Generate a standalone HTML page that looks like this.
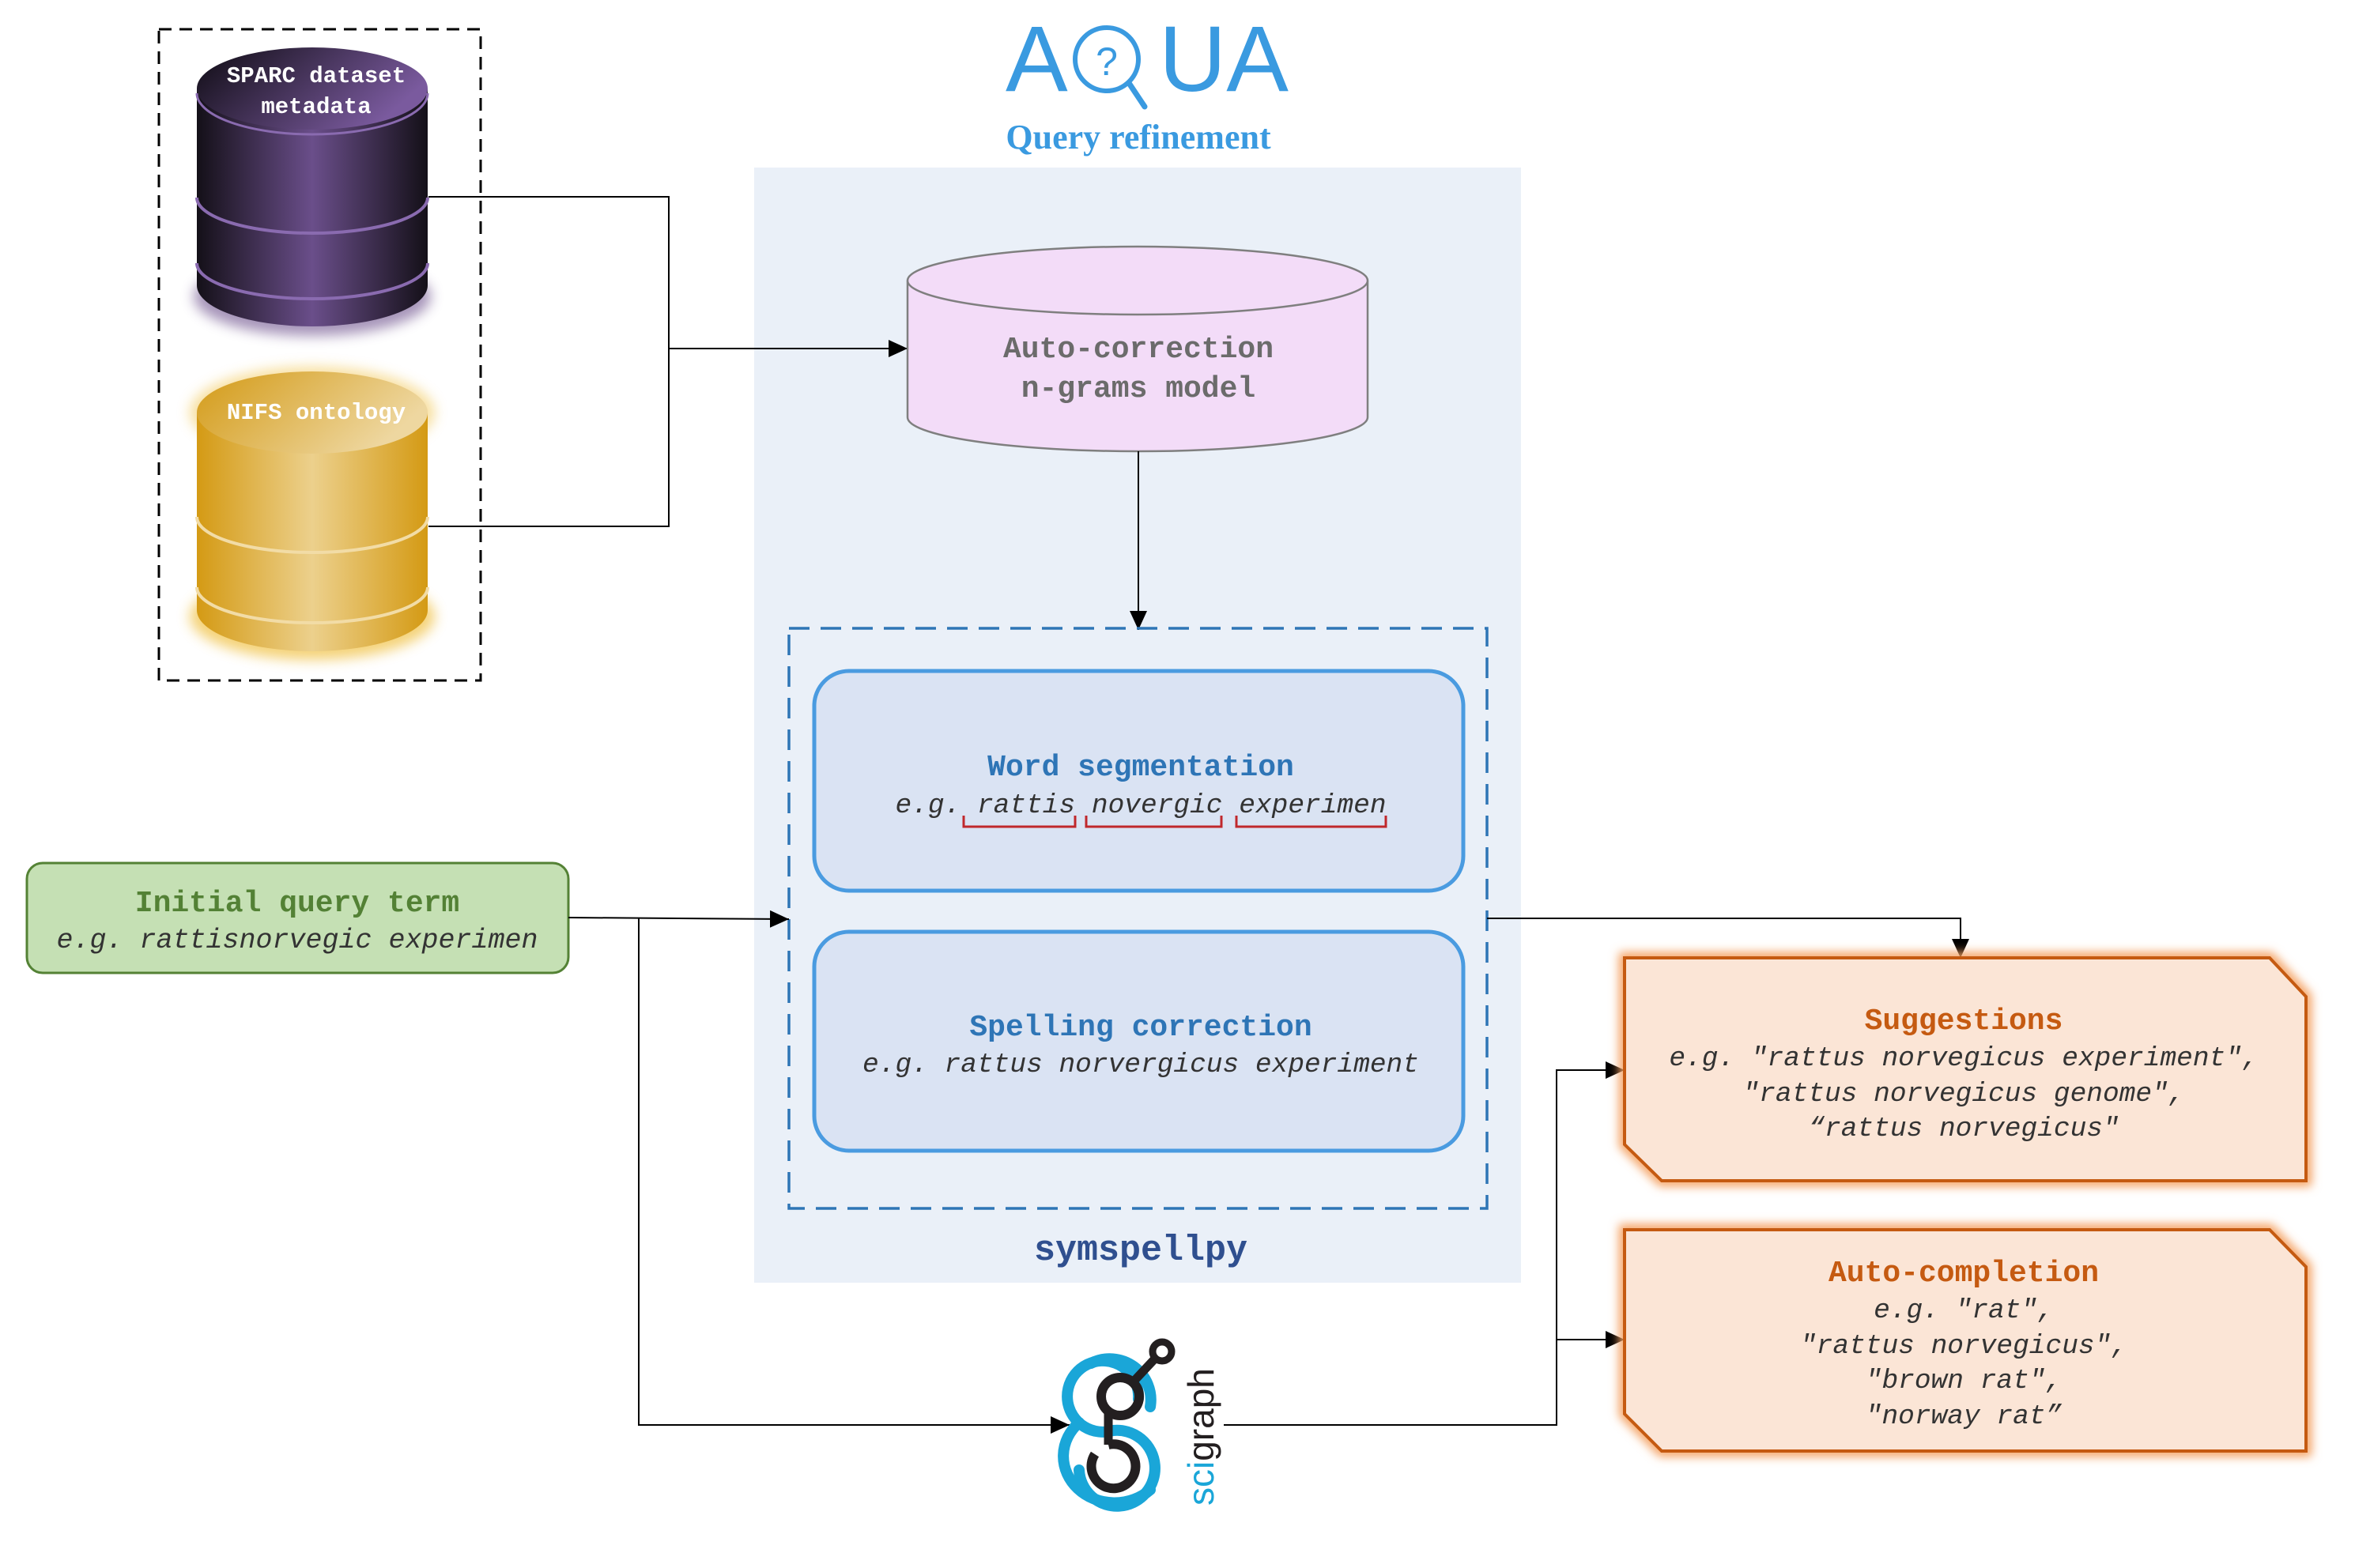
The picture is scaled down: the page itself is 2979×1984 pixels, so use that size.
<!DOCTYPE html>
<html><head><meta charset="utf-8"><style>
html,body{margin:0;padding:0;background:#fff;}
svg{display:block;}
.mono{font-family:"Liberation Mono","DejaVu Sans Mono",monospace;}
</style></head><body>
<svg width="2979" height="1984" viewBox="0 0 2979 1984" xmlns="http://www.w3.org/2000/svg">
<defs>
<linearGradient id="pur" x1="0" x2="1" y1="0" y2="0">
<stop offset="0" stop-color="#141018"/><stop offset="0.5" stop-color="#6a4e8a"/><stop offset="1" stop-color="#141018"/>
</linearGradient>
<linearGradient id="purtop" x1="0" x2="1" y1="0" y2="0.4">
<stop offset="0" stop-color="#0e0b12"/><stop offset="1" stop-color="#7a5a9e"/>
</linearGradient>
<linearGradient id="gold" x1="0" x2="1" y1="0" y2="0">
<stop offset="0" stop-color="#d49a14"/><stop offset="0.5" stop-color="#ecd08c"/><stop offset="1" stop-color="#d49a14"/>
</linearGradient>
<linearGradient id="goldtop" x1="0" x2="1" y1="0" y2="0.4">
<stop offset="0" stop-color="#d39a16"/><stop offset="1" stop-color="#eed7a0"/>
</linearGradient>
<filter id="glowP" x="-20%" y="-20%" width="140%" height="140%"><feGaussianBlur stdDeviation="8"/></filter>
<filter id="glowO" x="-10%" y="-10%" width="120%" height="120%"><feGaussianBlur stdDeviation="6"/></filter>
<marker id="ar" markerWidth="10" markerHeight="10" refX="9" refY="5" orient="auto" markerUnits="userSpaceOnUse" viewBox="0 0 10 10">
<path d="M0,0 L10,5 L0,10 z" fill="#000"/></marker>
<marker id="arb" markerWidth="24" markerHeight="22" refX="24" refY="11" orient="auto" markerUnits="userSpaceOnUse">
<path d="M0,0 L24,11 L0,22 z" fill="#000"/></marker>
</defs>

<!-- panel -->
<rect x="954" y="212" width="970" height="1411" fill="#eaf0f8"/>

<!-- AQUA logo -->
<text x="1272" y="115" font-family="Liberation Sans,sans-serif" font-size="118" fill="#3a9ae0">A</text>
<circle cx="1400" cy="75" r="40" fill="none" stroke="#3a9ae0" stroke-width="6"/>
<line x1="1428" y1="105" x2="1448" y2="135" stroke="#3a9ae0" stroke-width="7" stroke-linecap="round"/>
<text x="1400" y="95" text-anchor="middle" font-family="Liberation Sans,sans-serif" font-size="50" fill="#3a9ae0">?</text>
<text x="1466" y="115" font-family="Liberation Sans,sans-serif" font-size="118" fill="#3a9ae0">UA</text>
<text x="1440" y="188" text-anchor="middle" font-family="Liberation Serif,serif" font-weight="bold" font-size="44" fill="#3a9ae0">Query refinement</text>

<!-- left dashed box -->
<rect x="201" y="37" width="407" height="824" fill="none" stroke="#000" stroke-width="3" stroke-dasharray="16,10"/>

<!-- purple cylinder -->
<ellipse cx="395" cy="375" rx="150" ry="50" fill="#6a4e8a" opacity="0.6" filter="url(#glowP)"/>
<path d="M249,112 L249,361 A146,52 0 0 0 541,361 L541,112 Z" fill="url(#pur)"/>
<path d="M249,250 A146,45 0 0 0 541,250" fill="none" stroke="#8a6bb0" stroke-width="4"/>
<path d="M249,333 A146,45 0 0 0 541,333" fill="none" stroke="#8a6bb0" stroke-width="4"/>
<ellipse cx="395" cy="112" rx="146" ry="52" fill="url(#purtop)"/>
<path d="M249,118 A146,52 0 0 0 541,118" fill="none" stroke="#8a6bb0" stroke-width="3"/>
<text x="400" y="104" text-anchor="middle" class="mono" font-weight="bold" font-size="29" fill="#fff">SPARC dataset</text>
<text x="400" y="143" text-anchor="middle" class="mono" font-weight="bold" font-size="29" fill="#fff">metadata</text>

<!-- gold cylinder -->
<ellipse cx="395" cy="780" rx="155" ry="55" fill="#f0c040" opacity="0.7" filter="url(#glowP)"/>
<ellipse cx="395" cy="522" rx="155" ry="58" fill="#f0c040" opacity="0.5" filter="url(#glowP)"/>
<path d="M249,522 L249,772 A146,52 0 0 0 541,772 L541,522 Z" fill="url(#gold)"/>
<path d="M249,654 A146,45 0 0 0 541,654" fill="none" stroke="#f2dca6" stroke-width="4"/>
<path d="M249,743 A146,45 0 0 0 541,743" fill="none" stroke="#f2dca6" stroke-width="4"/>
<ellipse cx="395" cy="522" rx="146" ry="52" fill="url(#goldtop)"/>
<text x="400" y="530" text-anchor="middle" class="mono" font-weight="bold" font-size="29" fill="#fff">NIFS ontology</text>

<!-- connectors from DBs -->
<polyline points="542,249 846,249 846,666 542,666" fill="none" stroke="#000" stroke-width="2"/>
<line x1="846" y1="441" x2="1148" y2="441" stroke="#000" stroke-width="2" marker-end="url(#arb)"/>

<!-- pink cylinder -->
<path d="M1148,355 L1148,528 A291,43 0 0 0 1730,528 L1730,355" fill="#f3dcf8" stroke="#7f7f7f" stroke-width="2.5"/>
<ellipse cx="1439" cy="355" rx="291" ry="43" fill="#f3dcf8" stroke="#7f7f7f" stroke-width="2.5"/>
<text x="1440" y="452" text-anchor="middle" class="mono" font-weight="bold" font-size="38" fill="#6b6b6b">Auto-correction</text>
<text x="1440" y="502" text-anchor="middle" class="mono" font-weight="bold" font-size="38" fill="#6b6b6b">n-grams model</text>
<line x1="1440" y1="571" x2="1440" y2="797" stroke="#000" stroke-width="2" marker-end="url(#arb)"/>

<!-- dashed symspell box -->
<rect x="998" y="795" width="883" height="734" fill="none" stroke="#2e75b6" stroke-width="3.5" stroke-dasharray="26,14"/>
<rect x="1030" y="849" width="821" height="278" rx="44" fill="#dae3f3" stroke="#4a9be0" stroke-width="5"/>
<rect x="1030" y="1179" width="821" height="277" rx="44" fill="#dae3f3" stroke="#4a9be0" stroke-width="5"/>
<text x="1443" y="981" text-anchor="middle" class="mono" font-weight="bold" font-size="38" fill="#2e75b6">Word segmentation</text>
<text x="1443" y="1028" text-anchor="middle" class="mono" font-style="italic" font-size="34.5" fill="#333">e.g. rattis novergic experimen</text>
<g fill="none" stroke="#c0282c" stroke-width="3">
<polyline points="1219,1032 1219,1046 1360,1046 1360,1032"/>
<polyline points="1374,1032 1374,1046 1545,1046 1545,1032"/>
<polyline points="1564,1032 1564,1046 1753,1046 1753,1032"/>
</g>
<text x="1443" y="1310" text-anchor="middle" class="mono" font-weight="bold" font-size="38" fill="#2e75b6">Spelling correction</text>
<text x="1443" y="1356" text-anchor="middle" class="mono" font-style="italic" font-size="34.5" fill="#333">e.g. rattus norvergicus experiment</text>
<text x="1443" y="1594" text-anchor="middle" class="mono" font-weight="bold" font-size="45" fill="#2f4f8f">symspellpy</text>

<!-- initial query -->
<rect x="34" y="1092" width="685" height="139" rx="20" fill="#c5e0b4" stroke="#548235" stroke-width="3"/>
<text x="376" y="1153" text-anchor="middle" class="mono" font-weight="bold" font-size="38" fill="#538135">Initial query term</text>
<text x="376" y="1199" text-anchor="middle" class="mono" font-style="italic" font-size="35" fill="#333">e.g. rattisnorvegic experimen</text>
<polyline points="719,1161 998,1163" fill="none" stroke="#000" stroke-width="2" marker-end="url(#arb)"/>
<polyline points="808,1161 808,1803 1353,1803" fill="none" stroke="#000" stroke-width="2" marker-end="url(#arb)"/>

<!-- scigraph logo -->
<path d="M1440,1770 A45,45 0 1 0 1408,1810 L1408,1810 A48,48 0 1 1 1365,1860" fill="none" stroke="#1aa6d8" stroke-width="14" stroke-linecap="round"/>
<path d="M1455,1780 A52,52 0 0 0 1380,1725" fill="none" stroke="#1aa6d8" stroke-width="14" stroke-linecap="round"/>
<path d="M1365,1800 A55,50 0 0 0 1455,1885" fill="none" stroke="#1aa6d8" stroke-width="14" stroke-linecap="round"/>
<circle cx="1417" cy="1767" r="24" fill="none" stroke="#231f20" stroke-width="12"/>
<line x1="1432" y1="1750" x2="1462" y2="1718" stroke="#231f20" stroke-width="11"/>
<circle cx="1470" cy="1710" r="12" fill="none" stroke="#231f20" stroke-width="9"/>
<line x1="1402" y1="1788" x2="1402" y2="1828" stroke="#231f20" stroke-width="11"/>
<path d="M1402,1828 A28,28 0 1 1 1385,1840" fill="none" stroke="#231f20" stroke-width="12"/>
<text transform="translate(1535,1905) rotate(-90)" font-family="Liberation Sans,sans-serif" font-size="46" fill="#231f20"><tspan fill="#1aa6d8">sci</tspan>graph</text>

<!-- to outputs -->
<polyline points="1548,1803 1969,1803 1969,1354 2055,1354" fill="none" stroke="#000" stroke-width="2" marker-end="url(#arb)"/>
<line x1="1969" y1="1695" x2="2055" y2="1695" stroke="#000" stroke-width="2" marker-end="url(#arb)"/>
<polyline points="1881,1162 2480,1162 2480,1212" fill="none" stroke="#000" stroke-width="2" marker-end="url(#arb)"/>

<!-- suggestions -->
<path d="M2055,1212 L2871,1212 L2917,1261 L2917,1494 L2102,1494 L2055,1448 Z" fill="none" stroke="#f4a060" stroke-width="14" filter="url(#glowO)"/>
<path d="M2055,1212 L2871,1212 L2917,1261 L2917,1494 L2102,1494 L2055,1448 Z" fill="#fbe5d6" stroke="#c55a11" stroke-width="4"/>
<text x="2484" y="1302" text-anchor="middle" class="mono" font-weight="bold" font-size="38" fill="#c55a11">Suggestions</text>
<text x="2484" y="1348" text-anchor="middle" class="mono" font-style="italic" font-size="34.5" fill="#333">e.g. "rattus norvegicus experiment",</text>
<text x="2484" y="1393" text-anchor="middle" class="mono" font-style="italic" font-size="34.5" fill="#333">"rattus norvegicus genome",</text>
<text x="2484" y="1437" text-anchor="middle" class="mono" font-style="italic" font-size="34.5" fill="#333">“rattus norvegicus"</text>

<!-- auto-completion -->
<path d="M2055,1556 L2871,1556 L2917,1603 L2917,1836 L2102,1836 L2055,1789 Z" fill="none" stroke="#f4a060" stroke-width="14" filter="url(#glowO)"/>
<path d="M2055,1556 L2871,1556 L2917,1603 L2917,1836 L2102,1836 L2055,1789 Z" fill="#fbe5d6" stroke="#c55a11" stroke-width="4"/>
<text x="2484" y="1621" text-anchor="middle" class="mono" font-weight="bold" font-size="38" fill="#c55a11">Auto-completion</text>
<text x="2484" y="1667" text-anchor="middle" class="mono" font-style="italic" font-size="34.5" fill="#333">e.g. "rat",</text>
<text x="2484" y="1712" text-anchor="middle" class="mono" font-style="italic" font-size="34.5" fill="#333">"rattus norvegicus",</text>
<text x="2484" y="1756" text-anchor="middle" class="mono" font-style="italic" font-size="34.5" fill="#333">"brown rat",</text>
<text x="2484" y="1801" text-anchor="middle" class="mono" font-style="italic" font-size="34.5" fill="#333">"norway rat”</text>
</svg>
</body></html>
